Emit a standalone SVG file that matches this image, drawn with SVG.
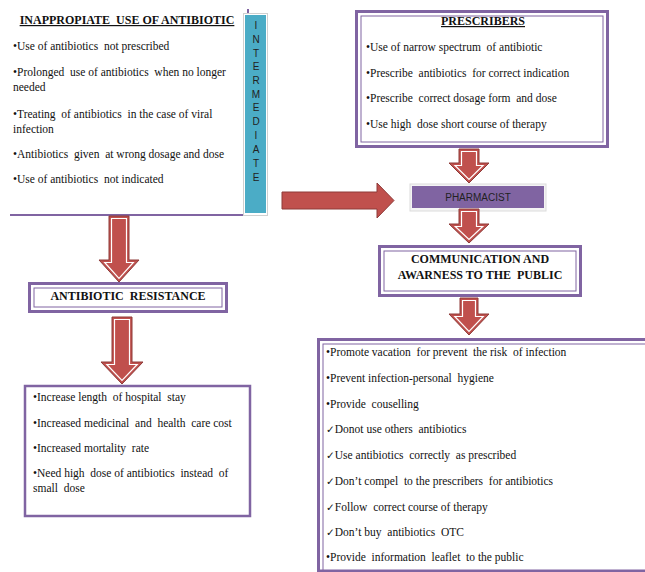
<svg xmlns="http://www.w3.org/2000/svg" width="645" height="572" viewBox="0 0 645 572">
<style>
text{white-space:pre}
.t{font-family:"Liberation Serif","Times New Roman",serif;font-size:11.5px;fill:#111}
.h{font-family:"Liberation Serif","Times New Roman",serif;font-size:12px;font-weight:bold;fill:#111}
.u{text-decoration:underline}
.ck{font-family:"DejaVu Sans",sans-serif;font-size:10.5px}
.s{font-family:"Liberation Sans",Arial,sans-serif;font-size:10px;fill:#222}
.ob{fill:#fff;stroke:#8064A2;stroke-width:3}
.ib{fill:none;stroke:#8064A2;stroke-width:1}
.ar{fill:#C0504D;stroke:#8E3B39;stroke-width:1}
.ai{fill:none;stroke:#fff;stroke-width:1.2}
</style>
<rect width="645" height="572" fill="#fff"/>

<g id="inappropriate">
<line x1="10" y1="215" x2="243" y2="215" stroke="#8064A2" stroke-width="2"/>
<line x1="248" y1="9" x2="248" y2="13" stroke="#8064A2" stroke-width="2"/>
<text class="h u" x="127" y="24" text-anchor="middle">INAPPROPIATE  USE OF ANTIBIOTIC</text>
<text class="t" x="13" y="50">•Use of antibiotics  not prescribed</text>
<text class="t" x="13" y="76">•Prolonged  use of antibiotics  when no longer</text>
<text class="t" x="13" y="91">needed</text>
<text class="t" x="13" y="118">•Treating  of antibiotics  in the case of viral</text>
<text class="t" x="13" y="133">infection</text>
<text class="t" x="13" y="158">•Antibiotics  given  at wrong dosage and dose</text>
<text class="t" x="13" y="183">•Use of antibiotics  not indicated</text>
</g>

<g id="intermediate">
<rect x="243.5" y="13.5" width="24" height="202" fill="#fff" stroke="#d0d0d0" stroke-width="1"/>
<rect x="245" y="15" width="21" height="198" fill="#4BACC6"/>
<g class="s" text-anchor="middle">
<text x="256" y="29">I</text>
<text x="256" y="43">N</text>
<text x="256" y="57">T</text>
<text x="256" y="70">E</text>
<text x="256" y="84">R</text>
<text x="256" y="98">M</text>
<text x="256" y="111">E</text>
<text x="256" y="125">D</text>
<text x="256" y="139">I</text>
<text x="256" y="153">A</text>
<text x="256" y="167">T</text>
<text x="256" y="181">E</text>
</g>
</g>

<g id="prescribers">
<rect class="ob" x="356.5" y="11.5" width="251" height="135"/>
<rect class="ib" x="361" y="16" width="242" height="126"/>
<text class="h u" x="483" y="25" text-anchor="middle">PRESCRIBERS</text>
<text class="t" x="366" y="51">•Use of narrow spectrum  of antibiotic</text>
<text class="t" x="366" y="77">•Prescribe  antibiotics  for correct indication</text>
<text class="t" x="366" y="102">•Prescribe  correct dosage form  and dose</text>
<text class="t" x="366" y="128">•Use high  dose short course of therapy</text>
</g>

<g id="pharmacist">
<rect x="410" y="184" width="136" height="27" fill="#f4f4f4" stroke="#dcdcdc" stroke-width="1"/>
<rect x="412" y="186" width="132" height="22" fill="#8064A2"/>
<text class="s" x="478" y="200.5" text-anchor="middle">PHARMACIST</text>
</g>

<g id="communication">
<rect class="ob" x="379.5" y="246.5" width="201" height="49"/>
<rect class="ib" x="384" y="251" width="192" height="40"/>
<text class="h" x="480" y="263" text-anchor="middle">COMMUNICATION AND</text>
<text class="h" x="480" y="279" text-anchor="middle">AWARNESS TO THE  PUBLIC</text>
</g>

<g id="resistance">
<rect class="ob" x="29.5" y="283.5" width="197" height="28"/>
<rect class="ib" x="34" y="288" width="188" height="19"/>
<text class="h" x="128" y="300" text-anchor="middle">ANTIBIOTIC  RESISTANCE</text>
</g>

<g id="consequences">
<rect x="25" y="386" width="225" height="130" fill="#fff" stroke="#8064A2" stroke-width="2.5"/>
<text class="t" x="33" y="401">•Increase length  of hospital  stay</text>
<text class="t" x="33" y="427">•Increased medicinal  and  health  care cost</text>
<text class="t" x="33" y="452">•Increased mortality  rate</text>
<text class="t" x="33" y="477">•Need high  dose of antibiotics  instead  of</text>
<text class="t" x="33" y="492">small  dose</text>
</g>

<g id="public">
<rect class="ob" x="318.5" y="339.5" width="340" height="231.5"/>
<rect class="ib" x="323" y="344" width="330" height="230"/>
<text class="t" x="326" y="356">•Promote vacation  for prevent  the risk  of infection</text>
<text class="t" x="326" y="382">•Prevent infection-personal  hygiene</text>
<text class="t" x="326" y="408">•Provide  couselling</text>
<text class="t" x="326" y="433"><tspan class="ck">✓</tspan>Donot use others  antibiotics</text>
<text class="t" x="326" y="459"><tspan class="ck">✓</tspan>Use antibiotics  correctly  as prescribed</text>
<text class="t" x="326" y="485"><tspan class="ck">✓</tspan>Don’t compel  to the prescribers  for antibiotics</text>
<text class="t" x="326" y="511"><tspan class="ck">✓</tspan>Follow  correct course of therapy</text>
<text class="t" x="326" y="536"><tspan class="ck">✓</tspan>Don’t buy  antibiotics  OTC</text>
<text class="t" x="326" y="561">•Provide  information  leaflet  to the public</text>
</g>

<g id="connectors">
<path class="ar" d="M109,216 L129,216 L129,260 L139,260 L119,282 L99,260 L109,260 Z"/>
<path class="ai" d="M111.5,218.5 L126.5,218.5 L126.5,262.5 L133.3,262.5 L119,278.3 L104.7,262.5 L111.5,262.5 Z"/>
<path class="ar" d="M112,317 L132,317 L132,362 L143,362 L122,384 L101,362 L112,362 Z"/>
<path class="ai" d="M114.5,319.5 L129.5,319.5 L129.5,364.5 L137.2,364.5 L122,380.4 L106.8,364.5 L114.5,364.5 Z"/>
<path class="ar" d="M459,149 L479,149 L479,163 L489,163 L469,183 L449,163 L459,163 Z"/>
<path class="ai" d="M461.5,151.5 L476.5,151.5 L476.5,165.5 L483,165.5 L469,179.5 L455,165.5 L461.5,165.5 Z"/>
<path class="ar" d="M459,209 L479,209 L479,224 L489,224 L469,243 L449,224 L459,224 Z"/>
<path class="ai" d="M461.5,211.5 L476.5,211.5 L476.5,226.5 L482.7,226.5 L469,239.5 L455.3,226.5 L461.5,226.5 Z"/>
<path class="ar" d="M460,298 L478,298 L478,314 L489,314 L469,335 L449,314 L460,314 Z"/>
<path class="ai" d="M462.5,300.5 L475.5,300.5 L475.5,316.5 L483.2,316.5 L469,331.4 L454.8,316.5 L462.5,316.5 Z"/>
<path class="ar" d="M282,192 L377,192 L377,183 L394,200.5 L377,218 L377,209 L282,209 Z"/>
</g>
</svg>
